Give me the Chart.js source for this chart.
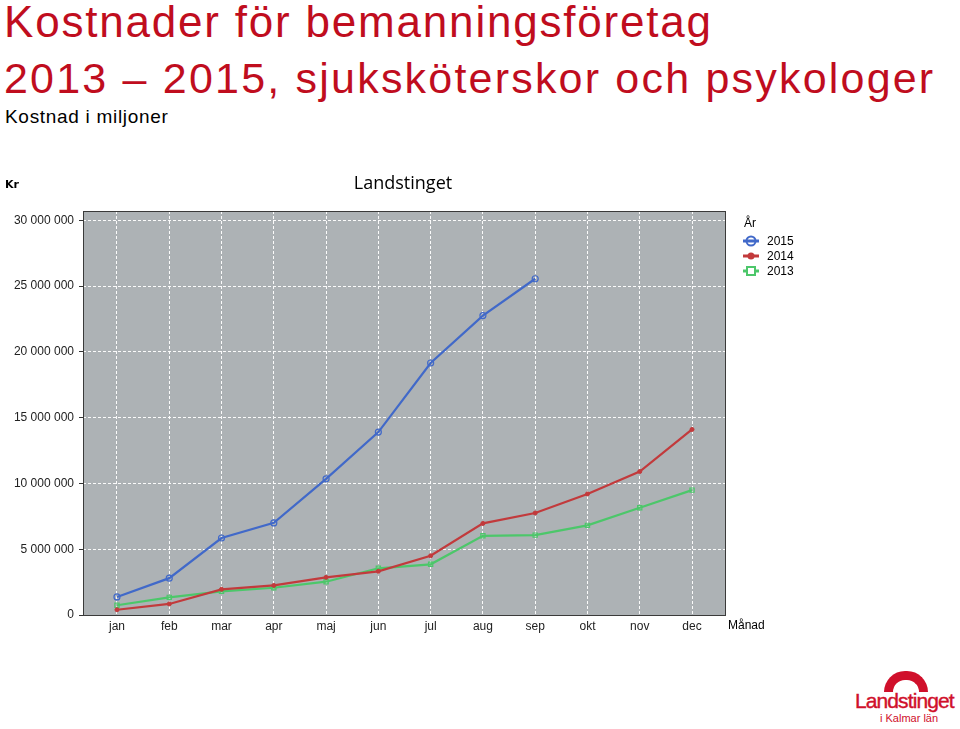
<!DOCTYPE html>
<html lang="sv">
<head>
<meta charset="utf-8">
<title>Kostnader för bemanningsföretag</title>
<script src="https://cdn.jsdelivr.net/npm/chart.js@4"></script>
<style>
  body { margin: 0; width: 960px; height: 729px; background: #fff; position: relative; overflow: hidden; font-family: "Liberation Sans", Arial, sans-serif; }
  .rubrik { position: absolute; left: 4px; color: #c00d1e; white-space: nowrap; }
  #r1 { top: 0px; font-size: 44px; line-height: 44px; letter-spacing: 1.8px; }
  #r2 { top: 57px; font-size: 43px; line-height: 43px; letter-spacing: 2.2px; }
  #under { position: absolute; left: 5px; top: 107px; font-size: 19px; line-height: 19px; color: #000; letter-spacing: 0.7px; }
  #wrap { position: absolute; left: 0; top: 160px; width: 800px; height: 480px; }
  #logo { position: absolute; left: 852px; top: 668px; width: 108px; height: 60px; color: #d0102b; }
  #logo .bage { position: absolute; left: 32px; top: 3px; width: 44px; height: 21px; border: 9px solid #d0102b; border-bottom: none; border-radius: 30px 30px 0 0; box-sizing: border-box; }
  #logo .namn { position: absolute; left: 3px; top: 22px; font-size: 21px; line-height: 22px; letter-spacing: -0.9px; -webkit-text-stroke: 0.4px #d0102b; }
  #logo .lan { position: absolute; left: 28px; top: 45px; font-size: 11px; line-height: 11px; }
</style>
</head>
<body>
<div class="rubrik" id="r1">Kostnader för bemanningsföretag</div>
<div class="rubrik" id="r2">2013 – 2015, sjuksköterskor och psykologer</div>
<div id="under">Kostnad i miljoner</div>
<div id="wrap"><canvas id="kostChart" width="800" height="480"></canvas></div>
<div id="logo"><div class="bage"></div><div class="namn">Landstinget</div><div class="lan">i Kalmar län</div></div>

<script>
// Månader på x-axeln
const months = ["jan", "feb", "mar", "apr", "maj", "jun", "jul", "aug", "sep", "okt", "nov", "dec"]
const years = ["2015", "2014", "2013"]

// Kostnader i kronor per månad
const cost2015 = [1370000, 2800000, 5850000, 7000000, 10350000, 13900000, 19150000, 22750000, 25550000]
const cost2014 = [400000, 840000, 1950000, 2250000, 2860000, 3320000, 4500000, 6960000, 7750000, 9200000, 10900000, 14100000]
const cost2013 = [740000, 1340000, 1800000, 2070000, 2530000, 3550000, 3850000, 6020000, 6070000, 6810000, 8150000, 9490000]

// Y-axelns skala
const yTicks = [0, 5000000, 10000000, 15000000, 20000000, 25000000, 30000000]

const colors = {
  "2015": "#4169c9",
  "2014": "#c23a3c",
  "2013": "#4cc76a",
}

function toPoints(values) {
  return values.map((v, i) => ({ x: i, y: v }))
}

function formatKr(v) {
  return String(v).replace(/\B(?=(\d{3})+(?!\d))/g, " ")
}

// Bakgrund, ram, rubriker och förklaring ritas av ett eget plugin
const decorations = {
  id: "decorations",
  beforeDraw(chart) {
    const { ctx, chartArea: a } = chart
    ctx.save()
    ctx.fillStyle = "#adb2b5"
    ctx.fillRect(a.left, a.top, a.right - a.left, a.bottom - a.top)
    ctx.restore()
  },
  afterDraw(chart) {
    const { ctx, chartArea: a } = chart
    ctx.save()
    ctx.strokeStyle = "#3a3a3a"
    ctx.lineWidth = 1
    ctx.strokeRect(a.left + 0.5, a.top + 0.5, a.right - a.left - 1, a.bottom - a.top)

    ctx.fillStyle = "#000"
    ctx.textBaseline = "middle"
    ctx.font = "bold 11px 'DejaVu Sans', sans-serif"
    ctx.textAlign = "left"
    ctx.fillText("Kr", 5, 25)

    ctx.font = "18px 'Open Sans', sans-serif"
    ctx.textAlign = "center"
    ctx.fillText("Landstinget", 403, 24)

    ctx.font = "12px 'Liberation Sans', Arial, sans-serif"
    ctx.textAlign = "left"
    ctx.fillText("Månad", 728, 466)
    ctx.fillText("År", 744, 64)

    // Förklaring
    chart.data.datasets.forEach((ds, i) => {
      const y = 81 + i * 15
      const cx = 751
      ctx.strokeStyle = ds.borderColor
      ctx.lineWidth = 3
      ctx.beginPath()
      ctx.moveTo(cx - 8, y)
      ctx.lineTo(cx + 8, y)
      ctx.stroke()
      ctx.lineWidth = 2
      if (ds.pointStyle === "rect") {
        ctx.fillStyle = "#fff"
        ctx.fillRect(cx - 4, y - 4, 8, 8)
        ctx.strokeRect(cx - 4, y - 4, 8, 8)
      } else if (ds.pointRadius > 2) {
        ctx.beginPath()
        ctx.arc(cx, y, 4.5, 0, Math.PI * 2)
        ctx.stroke()
      } else {
        ctx.fillStyle = ds.borderColor
        ctx.beginPath()
        ctx.arc(cx, y, 3.5, 0, Math.PI * 2)
        ctx.fill()
      }
      ctx.fillStyle = "#000"
      ctx.fillText(ds.label, 767, y + 1)
    })
    ctx.restore()
  },
}

const ctx = document.getElementById("kostChart").getContext("2d")
window.kostChart = new Chart(ctx, {
  type: "line",
  data: {
    datasets: [
      {
        label: years[0],
        data: toPoints(cost2015),
        borderColor: colors["2015"],
        backgroundColor: "rgba(0,0,0,0)",
        pointStyle: "circle",
        pointRadius: 3,
        pointBorderWidth: 1.2,
        borderWidth: 2.2,
      },
      {
        label: years[1],
        data: toPoints(cost2014),
        borderColor: colors["2014"],
        backgroundColor: colors["2014"],
        pointStyle: "circle",
        pointRadius: 2,
        pointBorderWidth: 1,
        borderWidth: 2.2,
      },
      {
        label: years[2],
        data: toPoints(cost2013),
        borderColor: colors["2013"],
        backgroundColor: "rgba(0,0,0,0)",
        pointStyle: "rect",
        pointRadius: 3,
        pointBorderWidth: 1.2,
        borderWidth: 2.2,
      },
    ],
  },
  options: {
    responsive: false,
    devicePixelRatio: 1,
    animation: false,
    layout: {
      padding: { top: 51, right: 74, left: 0, bottom: 0 },
    },
    plugins: {
      legend: { display: false },
      tooltip: { enabled: false },
    },
    scales: {
      x: {
        type: "linear",
        min: -0.65,
        max: 11.65,
        afterFit: (scale) => {
          scale.height = 25
        },
        afterBuildTicks: (scale) => {
          scale.ticks = months.map((m, i) => ({ value: i }))
        },
        ticks: {
          autoSkip: false,
          maxRotation: 0,
          padding: 4,
          color: "#222",
          font: { family: "'Liberation Sans', Arial, sans-serif", size: 12 },
          callback: (v) => months[v],
        },
        grid: {
          color: "rgba(255,255,255,0.95)",
          drawTicks: false,
        },
        border: { display: false, dash: [3, 2] },
      },
      y: {
        min: 0,
        max: 30700000,
        afterFit: (scale) => {
          scale.width = 83
        },
        afterBuildTicks: (scale) => {
          scale.ticks = yTicks.map((v) => ({ value: v }))
        },
        ticks: {
          padding: 5,
          color: "#222",
          font: { family: "'Liberation Sans', Arial, sans-serif", size: 12 },
          callback: (v) => formatKr(v),
        },
        grid: {
          color: "rgba(255,255,255,0.95)",
          tickColor: "#333",
          tickLength: 4,
          tickBorderDash: [],
        },
        border: { display: false, dash: [3, 2] },
      },
    },
  },
  plugins: [decorations],
})
</script>
</body>
</html>
